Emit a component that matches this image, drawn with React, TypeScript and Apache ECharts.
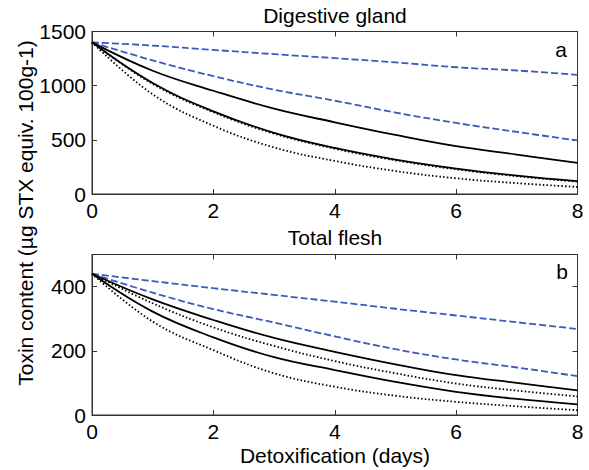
import React, { useEffect, useRef } from "react";
import * as echarts from "echarts";

const days = [0, 1, 2, 3, 4, 5, 6, 7, 8];

// Panel a: Digestive gland
const glandDashedA = [1400, 1370, 1330, 1291, 1254, 1215, 1170, 1140, 1100];
const glandDashedB = [1400, 1233, 1088, 963, 861, 752, 656, 573, 494];
const glandSolidA = [1400, 1138, 953, 788, 662, 545, 441, 364, 287];
const glandSolidB = [1400, 1024, 763, 565, 425, 318, 235, 170, 119];
const glandDottedA = [1400, 1016, 755, 557, 418, 311, 228, 164, 113];
const glandDottedB = [1400, 920, 630, 430, 305, 212, 145, 100, 65];

// Panel b: Total flesh
const fleshDashedA = [440, 417, 395, 374, 353, 331, 310, 289, 268];
const fleshDashedB = [440, 381, 330, 288, 245, 205, 173, 148, 121];
const fleshSolidA = [440, 360, 296, 240, 197, 158, 124, 100, 77];
const fleshDottedA = [440, 348, 273, 215, 168, 130, 98, 76, 58];
const fleshSolidB = [440, 322, 242, 180, 140, 103, 72, 50, 33];
const fleshDottedB = [440, 291, 202, 130, 88, 60, 41, 27, 15];

const xTicks = { min: 0, max: 8, interval: 2 };
const glandY = { min: 0, max: 1500, interval: 500 };
const fleshY = { min: 0, max: 500, interval: 200 };

const FONT = "'Liberation Sans', Arial, sans-serif";
const BLUE = "#3c5aba";
const AXIS = "#333";

export default function App() {
  const ref = useRef<HTMLDivElement>(null);
  useEffect(() => {
    if (!ref.current) return;
    const chart = echarts.init(ref.current, undefined, { renderer: "svg" });
    const pairs = (arr: number[]) => days.map((d, i) => [d, arr[i]]);
    const dashed = { color: BLUE, width: 1.8, type: [7, 3] as any };
    const solid = { color: "#000", width: 1.8, type: "solid" as any };
    const dotted = { color: "#000", width: 1.8, type: [1.5, 2.2] as any };
    const mk = (name: string, arr: number[], g: number, ls: any) => ({
      name,
      type: "line",
      xAxisIndex: g * 2,
      yAxisIndex: g * 2,
      data: pairs(arr),
      showSymbol: false,
      symbol: "none",
      smooth: 0.4,
      lineStyle: ls,
      silent: true,
    });
    const xAx = (g: number, pos: "bottom" | "top", labels: boolean) => ({
      type: "value",
      gridIndex: g,
      position: pos,
      ...xTicks,
      axisLine: { show: true, onZero: false, lineStyle: { color: AXIS, width: 1 } },
      axisTick: { show: true, inside: true, length: 5, lineStyle: { color: AXIS } },
      axisLabel: { show: labels, fontSize: 21, color: "#000", margin: 6, fontFamily: FONT, formatter: (v: number) => String(v) },
      splitLine: { show: false },
    });
    const yAx = (g: number, pos: "left" | "right", labels: boolean, rng: any) => ({
      type: "value",
      gridIndex: g,
      position: pos,
      ...rng,
      axisLine: { show: true, onZero: false, lineStyle: { color: AXIS, width: 1 } },
      axisTick: { show: true, inside: true, length: 5, lineStyle: { color: AXIS } },
      axisLabel: {
        show: labels,
        fontSize: 21,
        color: "#000",
        margin: 6,
        fontFamily: FONT,
        showMaxLabel: rng.max === 1500,
        formatter: (v: number) => String(v),
      },
      splitLine: { show: false },
    });
    chart.setOption({
      animation: false,
      backgroundColor: "#fff",
      textStyle: { fontFamily: FONT },
      grid: [
        { left: 92, top: 31.5, width: 485.5, height: 162.5, show: true, borderColor: AXIS, borderWidth: 1, backgroundColor: "transparent" },
        { left: 92, top: 254.5, width: 485.5, height: 160.5, show: true, borderColor: AXIS, borderWidth: 1, backgroundColor: "transparent" },
      ],
      xAxis: [xAx(0, "bottom", true), xAx(0, "top", false), xAx(1, "bottom", true), xAx(1, "top", false)],
      yAxis: [
        yAx(0, "left", true, glandY),
        yAx(0, "right", false, glandY),
        yAx(1, "left", true, fleshY),
        yAx(1, "right", false, fleshY),
      ],
      series: [
        mk("gland dashed A", glandDashedA, 0, dashed),
        mk("gland dashed B", glandDashedB, 0, dashed),
        mk("gland solid A", glandSolidA, 0, solid),
        mk("gland solid B", glandSolidB, 0, solid),
        mk("gland dotted A", glandDottedA, 0, dotted),
        mk("gland dotted B", glandDottedB, 0, dotted),
        mk("flesh dashed A", fleshDashedA, 1, dashed),
        mk("flesh dashed B", fleshDashedB, 1, dashed),
        mk("flesh solid A", fleshSolidA, 1, solid),
        mk("flesh dotted A", fleshDottedA, 1, dotted),
        mk("flesh solid B", fleshSolidB, 1, solid),
        mk("flesh dotted B", fleshDottedB, 1, dotted),
      ],
      graphic: [
        { type: "text", x: 335, y: 15, style: { text: "Digestive gland", font: `21px ${FONT}`, fill: "#000", textAlign: "center", textVerticalAlign: "middle" } },
        { type: "text", x: 335, y: 237, style: { text: "Total flesh", font: `21px ${FONT}`, fill: "#000", textAlign: "center", textVerticalAlign: "middle" } },
        { type: "text", x: 335, y: 455, style: { text: "Detoxification (days)", font: `21px ${FONT}`, fill: "#000", textAlign: "center", textVerticalAlign: "middle" } },
        { type: "text", x: 25, y: 213, rotation: Math.PI / 2, style: { text: "Toxin content (µg STX equiv. 100g-1)", font: `21px ${FONT}`, fill: "#000", textAlign: "center", textVerticalAlign: "middle" } },
        { type: "text", x: 561, y: 49, style: { text: "a", font: `21px ${FONT}`, fill: "#000", textAlign: "center", textVerticalAlign: "middle" } },
        { type: "text", x: 562, y: 271, style: { text: "b", font: `21px ${FONT}`, fill: "#000", textAlign: "center", textVerticalAlign: "middle" } },
      ],
    });
    return () => chart.dispose();
  }, []);
  return <div ref={ref} style={{ position: "fixed", left: 0, top: 0, width: 589, height: 470 }} />;
}
